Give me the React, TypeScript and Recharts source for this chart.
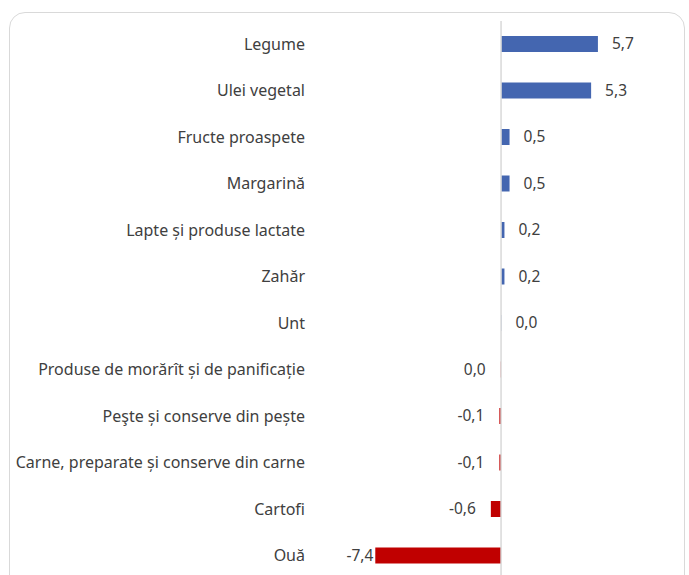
import { BarChart, Bar, XAxis, YAxis, Cell, ReferenceLine, LabelList } from 'recharts';

const categories = [
  'Legume',
  'Ulei vegetal',
  'Fructe proaspete',
  'Margarină',
  'Lapte și produse lactate',
  'Zahăr',
  'Unt',
  'Produse de morărît și de panificație',
  'Peşte și conserve din pește',
  'Carne, preparate și conserve din carne',
  'Cartofi',
  'Ouă',
];

// 0,0 values keep their sign (Unt a tiny rise, morărît a tiny fall)
const values = [5.7, 5.3, 0.5, 0.5, 0.2, 0.2, 0.02, -0.02, -0.1, -0.1, -0.6, -7.4];

const BLUE = '#4466B0';
const RED = '#C00000';
const TEXT = '#404040';
const FONT = '"Noto Sans", sans-serif';

const data = categories.map((name, i) => ({ name, value: values[i] }));

const fmt = (v: number) => (Math.abs(v) < 0.05 ? '0,0' : v.toFixed(1).replace('.', ','));

const PLOT_LEFT = 343;

function ValueLabel(props: any) {
  const { x, y, width, height, value } = props;
  const v = Number(value);
  const cy = y + height / 2;
  const txt = fmt(v);
  if (v >= 0) {
    return (
      <text x={x + width + 14} y={cy} dy="0.35em" textAnchor="start" fill={TEXT} fontSize={15.5} fontFamily={FONT}>
        {txt}
      </text>
    );
  }
  // negative: bar starts at x + width (width is negative)
  const start = Math.min(x, x + width);
  const est = txt.length * 7.6;
  let endX = start - 15;
  if (endX - est < PLOT_LEFT) endX = PLOT_LEFT + est;
  return (
    <text x={endX} y={cy} dy="0.35em" textAnchor="end" fill={TEXT} fontSize={15.5} fontFamily={FONT}>
      {txt}
    </text>
  );
}

export default function App() {
  return (
    <div style={{ position: 'fixed', left: 0, top: 0, width: 689, height: 575, overflow: 'hidden', background: '#fff' }}>
      <div
        style={{
          position: 'absolute',
          left: 9,
          top: 12,
          width: 676,
          height: 580,
          border: '1px solid #d9d9d9',
          borderRadius: 16,
          boxSizing: 'border-box',
        }}
      />
      <div style={{ position: 'absolute', left: 0, top: 0 }}>
        <BarChart
          width={689}
          height={579}
          data={data}
          layout="vertical"
          margin={{ top: 21, right: 18, bottom: 0, left: 0 }}
          barSize={16}
        >
          <XAxis type="number" domain={[-9.3, 10]} hide />
          <YAxis
            type="category"
            dataKey="name"
            width={PLOT_LEFT}
            axisLine={false}
            tickLine={false}
            tickSize={0}
            tickMargin={38}
            interval={0}
            tick={{ fill: TEXT, fontSize: 16, fontFamily: FONT }}
          />
          <ReferenceLine x={0} stroke="#d9d9d9" strokeWidth={1.5} />
          <Bar dataKey="value" isAnimationActive={false}>
            {data.map((d, i) => (
              <Cell key={i} fill={d.value >= 0 ? BLUE : RED} />
            ))}
            <LabelList dataKey="value" content={<ValueLabel />} />
          </Bar>
        </BarChart>
      </div>
    </div>
  );
}
